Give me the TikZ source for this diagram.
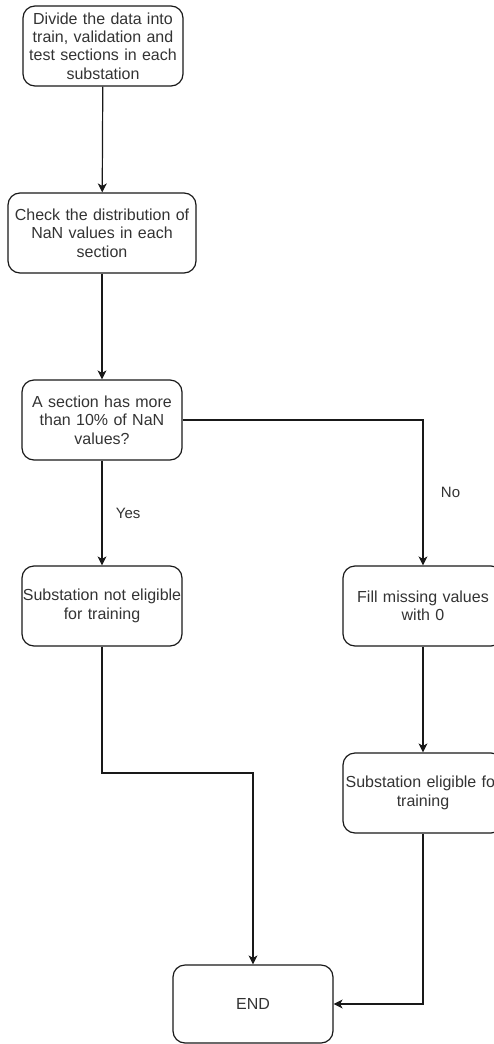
\documentclass[tikz,border=0pt]{standalone}
\usepackage{fontspec}
\setmainfont{Liberation Sans}
\usetikzlibrary{arrows.meta}
\begin{document}
\begin{tikzpicture}[x=1pt,y=-1pt,
  box/.style={draw=black!90,line width=1.2pt,rounded corners=12pt,minimum width=160pt,minimum height=80pt,
    text width=160pt,inner sep=0pt,align=center,text=black!80,font=\fontsize{16}{18.4}\selectfont},
  flow/.style={draw=black!90,line width=1.2pt,-{Stealth[length=9pt,width=9pt,inset=2.5pt]}},
  lbl/.style={text=black!80,font=\fontsize{15}{18}\selectfont}]
\useasboundingbox (0,0) rectangle (494,1044);
\clip (0,0) rectangle (494,1044);
\node[box] (divide) at (103,46) {Divide the data into\\train, validation and\\test sections in each\\substation};
\node[box,minimum width=188pt,text width=188pt] (check) at (102,233) {Check the distribution of\\NaN values in each\\section};
\node[box] (decide) at (102,420) {A section has more\\than 10\% of NaN\\values?};
\node[box] (noteligible) at (102,606) {Substation not eligible\\for training};
\node[box] (fill) at (423,606) {Fill missing values\\with 0};
\node[box] (eligible) at (423,793) {Substation eligible for\\training};
\node[box,minimum height=78pt] (end) at (253,1004) {END};
\coordinate (bend) at (253,773);
\draw[flow] (divide) -- (check);
\draw[flow] (check) -- (decide);
\draw[flow] (decide) -- (noteligible) node[midway,right,lbl,xshift=10pt] {Yes};
\draw[flow] (decide.east) -| (fill.north) node[pos=0.75,right,lbl,xshift=14pt] {No};
\draw[flow] (fill) -- (eligible);
\draw[flow] (noteligible.south) |- (bend) -- (end.north);
\draw[flow] (eligible.south) |- (end.east);
\end{tikzpicture}
\end{document}
